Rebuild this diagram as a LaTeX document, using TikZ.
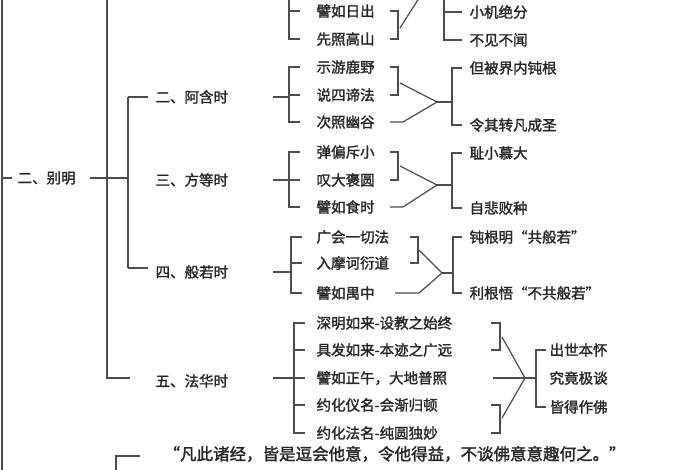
\documentclass[tikz,border=0pt]{standalone}
\usepackage{fontspec}
\newfontfamily\cjk[FakeBold=1.6]{Noto Sans CJK SC}
\begin{document}
\begin{tikzpicture}[x=1pt,y=-1pt,line width=1.2pt,color=black!70,
  lbl/.style={anchor=west,inner sep=0pt,text=black!85,font=\cjk\fontsize{14.5}{14.5}\selectfont}]
\useasboundingbox (0,0) rectangle (700,470);
\fill[white] (0,0) rectangle (700,470);
\clip (0,0) rectangle (700,470);
% main spine
\draw (2,-5) -- (2,475);
\node[lbl] (bm) at (17,178) {二、别明};
\draw (2,178) -- (12,178);
\draw (90,178) -- (128,178);
\draw (107,-5) -- (107,378) -- (130,378);
\draw (128,97) -- (128,268);
\draw (128,97) -- (148,97);
\draw (128,268) -- (148,268);
% top partial
\node[lbl] (a1) at (316,11) {譬如日出};
\node[lbl] (a2) at (316,39) {先照高山};
\draw (289,-5) -- (289,39) -- (300,39);
\draw (289,11) -- (300,11);
\draw (390,11) -- (398,11) -- (398,39) -- (390,39);
\draw (400,28) -- (421,-5);
\node[lbl] (b1) at (469,12) {小机绝分};
\node[lbl] (b2) at (469,40) {不见不闻};
\draw (444,-5) -- (444,40) -- (462,40);
\draw (444,12) -- (462,12);
% 阿含
\node[lbl] (p2) at (155,97) {二、阿含时};
\node[lbl] (c21) at (316,67) {示游鹿野};
\node[lbl] (c22) at (316,95) {说四谛法};
\node[lbl] (c23) at (316,122) {次照幽谷};
\draw (273,97) -- (289,97);
\draw (300,67) -- (289,67) -- (289,122) -- (300,122);
\draw (289,95) -- (300,95);
\draw (390,67) -- (398,67) -- (398,95) -- (390,95);
\draw (400,83) -- (437,102) -- (403,122) -- (390,122);
\draw (437,102) -- (452,102);
\node[lbl] (d21) at (469,68) {但被界内钝根};
\node[lbl] (d22) at (469,125) {令其转凡成圣};
\draw (462,68) -- (452,68) -- (452,125) -- (462,125);
% 方等
\node[lbl] (p3) at (155,180) {三、方等时};
\node[lbl] (c31) at (316,152) {弹偏斥小};
\node[lbl] (c32) at (316,180) {叹大褒圆};
\node[lbl] (c33) at (316,207) {譬如食时};
\draw (273,180) -- (289,180);
\draw (300,152) -- (289,152) -- (289,207) -- (300,207);
\draw (289,180) -- (300,180);
\draw (390,152) -- (398,152) -- (398,180) -- (390,180);
\draw (400,166) -- (437,185) -- (403,207) -- (390,207);
\draw (437,185) -- (452,185);
\node[lbl] (d31) at (469,153) {耻小慕大};
\node[lbl] (d32) at (469,208) {自悲败种};
\draw (462,153) -- (452,153) -- (452,208) -- (462,208);
% 般若
\node[lbl] (p4) at (155,272) {四、般若时};
\node[lbl] (c41) at (316,237) {广会一切法};
\node[lbl] (c42) at (316,263) {入摩诃衍道};
\node[lbl] (c43) at (316,293) {譬如禺中};
\draw (273,272) -- (291,272);
\draw (302,237) -- (291,237) -- (291,293) -- (302,293);
\draw (291,263) -- (302,263);
\draw (410,237) -- (418,237) -- (418,263) -- (410,263);
\draw (419,250) -- (442,273) -- (419,293) -- (395,293);
\draw (442,273) -- (453,273);
\node[lbl] (d41) at (469,237) {钝根明“共般若”};
\node[lbl] (d42) at (469,293) {利根悟“不共般若”};
\draw (462,237) -- (453,237) -- (453,293) -- (462,293);
% 法华
\node[lbl] (p5) at (155,381) {五、法华时};
\node[lbl] (c51) at (316,323) {深明如来-设教之始终};
\node[lbl] (c52) at (316,350) {具发如来-本迹之广远};
\node[lbl] (c53) at (316,378) {譬如正午，大地普照};
\node[lbl] (c54) at (316,405) {约化仪名-会渐归顿};
\node[lbl] (c55) at (316,433) {约化法名-纯圆独妙};
\draw (273,378) -- (294,378);
\draw (305,323) -- (294,323) -- (294,433) -- (305,433);
\draw (294,350) -- (305,350);
\draw (294,378) -- (305,378);
\draw (294,405) -- (305,405);
\draw (491,323) -- (500,323) -- (500,350) -- (491,350);
\draw (491,405) -- (500,405) -- (500,433) -- (491,433);
\draw (502,337) -- (525,378) -- (502,418);
\draw (493,378) -- (536,378);
\node[lbl] (e1) at (549,350) {出世本怀};
\node[lbl] (e2) at (549,378) {究竟极谈};
\node[lbl] (e3) at (549,407) {皆得作佛};
\draw (546,350) -- (536,350) -- (536,407) -- (546,407);
% bottom
\node[lbl,font=\cjk\fontsize{16.5}{16.5}\selectfont] (q) at (163,454) {“凡此诸经，皆是逗会他意，令他得益，不谈佛意意趣何之。”};
\draw (140,456) -- (116,456) -- (116,475);
\end{tikzpicture}
\end{document}
